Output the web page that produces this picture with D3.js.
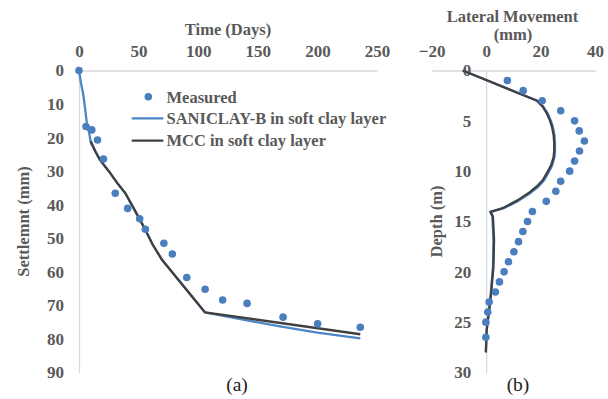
<!DOCTYPE html>
<html>
<head>
<meta charset="utf-8">
<script src="https://cdn.jsdelivr.net/npm/d3@7"></script>
<style>
  html, body { margin: 0; padding: 0; background: #fff; }
  svg { display: block; }
  text { font-family: "Liberation Serif", "Times New Roman", serif; }
</style>
</head>
<body>
<svg id="chart" width="608" height="399"></svg>
<script>
// ---------- Data: (a) settlement vs time ----------
const timeTicks = [0, 50, 100, 150, 200, 250];
const settleTicks = [0, 10, 20, 30, 40, 50, 60, 70, 80, 90];

const measuredDays   = [0, 5.9, 10.7, 15.5, 20.5, 30.4, 40.8, 50.9, 55.7, 71.2, 78.3, 90.4, 105.8, 120.5, 141, 171.2, 200.2, 236];
const measuredSettle = [0, 16.7, 17.7, 20.7, 26.4, 36.6, 41.1, 44.2, 47.3, 51.5, 54.7, 61.7, 65.2, 68.4, 69.4, 73.5, 75.5, 76.5];

const saniDays   = [0, 1.5, 3.5, 5, 6, 7, 8.5, 10, 14, 17.7, 25, 32, 38.9, 45, 55.7, 62, 69.8, 105.6, 140, 169.8, 200, 236];
const saniSettle = [0, 3.5, 7, 11, 14, 17, 18.5, 21.7, 24.3, 26.7, 30, 33.5, 36.6, 40.5, 47.5, 52, 56.5, 72.05, 74.4, 76.3, 78.1, 79.8];

const mccDays   = [9.8, 14, 17.7, 25, 32, 38.9, 45, 55.7, 62, 69.8, 105.6, 236];
const mccSettle = [21.0, 24.3, 26.7, 30, 33.5, 36.6, 40.5, 47.5, 52, 56.5, 72.05, 78.6];

// ---------- Data: (b) lateral movement vs depth ----------
const moveTicks = [-20, 0, 20, 40];
const depthTicks = [0, 5, 10, 15, 20, 25, 30];

const measDepth = [1, 2, 3, 4, 5, 6, 7, 8, 9, 10, 11, 12, 13, 14, 15, 16, 17, 18, 19, 20, 21, 22, 23, 24, 25, 26.5];
const measMove  = [7.8, 13.6, 20.6, 27.4, 32.5, 34.2, 36.1, 34.3, 32.5, 30.7, 27.4, 25.6, 22.1, 17.0, 15.2, 13.5, 11.9, 10.2, 8.2, 6.6, 4.9, 3.4, 1.1, 0.6, -0.1, -0.1];

const mccDepth = [0, 3, 3.6, 4.25, 5, 5.6, 6.4, 7.2, 8, 8.6, 9.4, 10.2, 10.9, 11.5, 12.2, 12.9, 13.4, 13.7, 14.05, 14.5, 16.8, 19.5, 22.5, 25.8, 28];
const mccMove  = [-8.6, 18.7, 20.8, 22.3, 23.5, 24.2, 24.8, 25.0, 25.0, 24.8, 23.9, 22.3, 20.8, 18.7, 15.5, 11.5, 8.0, 5.8, 1.7, 2.5, 2.9, 2.7, 1.7, 0.2, -0.1];

const saniDepth = [0, 3, 3.6, 4.25, 5, 5.6, 6.4, 7.2, 8, 8.6, 9.4, 10.2, 10.9, 11.5, 12.2, 12.9, 13.4, 13.7, 14.05, 14.5, 16.8, 19.5, 22.5, 25.8, 28];
const saniMove  = [-8.6, 18.9, 21.0, 22.6, 23.8, 24.5, 25.1, 25.3, 25.3, 25.1, 24.3, 22.8, 21.3, 19.3, 16.1, 12.1, 8.5, 6.2, 1.5, 2.3, 2.7, 2.5, 1.6, 0.2, -0.1];

const seriesNames = ["Measured", "SANICLAY-B in soft clay layer", "MCC in soft clay layer"];

// ---------- Styles ----------
const C_TEXT = "#595959", C_AXIS = "#d9d9d9";
const C_DOT = "#4a7ebf", C_SANI = "#4a86c8", C_MCC = "#404040";

const svg = d3.select("#chart");

function styleAxis(g) {
  g.select(".domain").attr("stroke", C_AXIS).attr("stroke-width", 1.3);
  g.selectAll(".tick line").remove();
  g.selectAll(".tick text")
    .attr("fill", C_TEXT)
    .attr("font-size", 17)
    .attr("font-weight", "bold")
    .attr("font-family", "Liberation Serif, Times New Roman, serif");
}

// ---------- Panel (a) ----------
const xA = d3.scaleLinear().domain([0, 250]).range([79, 377]);
const yA = d3.scaleLinear().domain([0, 90]).range([70.5, 372.5]);

svg.append("g").attr("transform", `translate(0,${yA(0)})`)
  .call(d3.axisTop(xA).tickValues(timeTicks).tickSize(0).tickPadding(14).tickSizeOuter(0))
  .call(styleAxis);
svg.append("g").attr("transform", `translate(${xA(0)},0)`)
  .call(d3.axisLeft(yA).tickValues(settleTicks).tickSize(0).tickPadding(15).tickSizeOuter(0))
  .call(styleAxis);

const lineA = d3.line().x(d => xA(d[0])).y(d => yA(d[1]));
svg.append("path").datum(d3.zip(saniDays, saniSettle))
  .attr("d", lineA).attr("fill", "none").attr("stroke", C_SANI).attr("stroke-width", 2.3).attr("stroke-linejoin", "round");
svg.append("path").datum(d3.zip(mccDays, mccSettle))
  .attr("d", lineA).attr("fill", "none").attr("stroke", C_MCC).attr("stroke-width", 2.3).attr("stroke-linejoin", "round");
svg.append("g").selectAll("circle").data(d3.zip(measuredDays, measuredSettle)).join("circle")
  .attr("cx", d => xA(d[0])).attr("cy", d => yA(d[1])).attr("r", 3.8).attr("fill", C_DOT);

svg.append("text").attr("x", 228).attr("y", 34.5).attr("text-anchor", "middle")
  .attr("fill", C_TEXT).attr("font-size", 16.5).attr("font-weight", "bold").text("Time (Days)");
svg.append("text").attr("transform", `translate(28.5,${(yA(0) + yA(90)) / 2}) rotate(-90)`)
  .attr("text-anchor", "middle").attr("fill", C_TEXT).attr("font-size", 16.5).attr("font-weight", "bold")
  .text("Settlemnt (mm)");
svg.append("text").attr("x", 237).attr("y", 391).attr("text-anchor", "middle")
  .attr("fill", "#222").attr("font-size", 19.5).text("(a)");

// Legend
const leg = svg.append("g");
leg.append("circle").attr("cx", 148.3).attr("cy", 96.7).attr("r", 3.8).attr("fill", C_DOT);
leg.append("line").attr("x1", 131.7).attr("x2", 163.3).attr("y1", 118.3).attr("y2", 118.3).attr("stroke", C_SANI).attr("stroke-width", 2.3);
leg.append("line").attr("x1", 131.7).attr("x2", 163.3).attr("y1", 140.7).attr("y2", 140.7).attr("stroke", C_MCC).attr("stroke-width", 2.3);
[102.8, 124.2, 146].forEach((y, i) => {
  leg.append("text").attr("x", 166.5).attr("y", y).attr("fill", C_TEXT)
    .attr("font-size", 16.5).attr("font-weight", "bold").text(seriesNames[i]);
});

// ---------- Panel (b) ----------
const xB = d3.scaleLinear().domain([-20, 40]).range([431.7, 595]);
const yB = d3.scaleLinear().domain([0, 30]).range([70.5, 372.5]);

svg.append("g").attr("transform", `translate(0,${yB(0)})`)
  .call(d3.axisTop(xB).tickValues(moveTicks).tickSize(0).tickPadding(14).tickSizeOuter(0))
  .call(styleAxis);
svg.append("g").attr("transform", `translate(${xB(0)},0)`)
  .call(d3.axisLeft(yB).tickValues(depthTicks).tickSize(0).tickPadding(15).tickSizeOuter(0))
  .call(styleAxis);

const lineB = d3.line().x(d => xB(d[1])).y(d => yB(d[0])).curve(d3.curveLinear);
svg.append("path").datum(d3.zip(saniDepth, saniMove))
  .attr("d", lineB).attr("fill", "none").attr("stroke", C_SANI).attr("stroke-width", 2.3).attr("stroke-linejoin", "round");
svg.append("path").datum(d3.zip(mccDepth, mccMove))
  .attr("d", lineB).attr("fill", "none").attr("stroke", C_MCC).attr("stroke-width", 2.3).attr("stroke-linejoin", "round");
svg.append("g").selectAll("circle").data(d3.zip(measDepth, measMove)).join("circle")
  .attr("cx", d => xB(d[1])).attr("cy", d => yB(d[0])).attr("r", 3.8).attr("fill", C_DOT);

svg.append("text").attr("x", 512.5).attr("y", 21.5).attr("text-anchor", "middle")
  .attr("fill", C_TEXT).attr("font-size", 16.5).attr("font-weight", "bold").text("Lateral Movement");
svg.append("text").attr("x", 513).attr("y", 40).attr("text-anchor", "middle")
  .attr("fill", C_TEXT).attr("font-size", 16.5).attr("font-weight", "bold").text("(mm)");
svg.append("text").attr("transform", `translate(442,${(yB(0) + yB(30)) / 2}) rotate(-90)`)
  .attr("text-anchor", "middle").attr("fill", C_TEXT).attr("font-size", 16.5).attr("font-weight", "bold")
  .text("Depth (m)");
svg.append("text").attr("x", 518).attr("y", 391).attr("text-anchor", "middle")
  .attr("fill", "#222").attr("font-size", 19.5).text("(b)");
</script>
</body>
</html>
